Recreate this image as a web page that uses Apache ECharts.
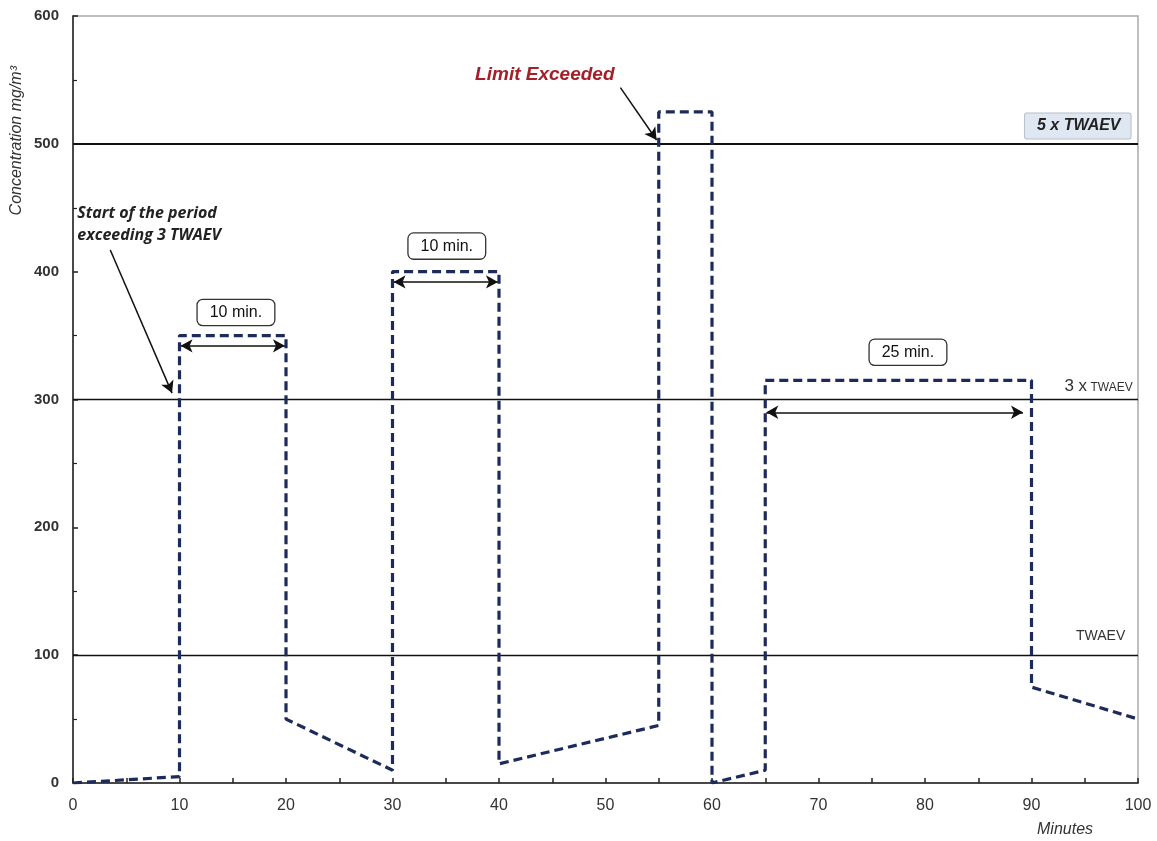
<!DOCTYPE html>
<html><head><meta charset="utf-8">
<script src="https://cdn.jsdelivr.net/npm/echarts@6/dist/echarts.min.js"></script>
<style>html,body{margin:0;padding:0;background:#fff}#c{width:1157px;height:841px}</style>
</head><body><div id="c"></div>
<script>
// Concentration profile (minutes, mg/m3)
const minutes = [0, 10, 10, 20, 20, 30, 30, 40, 40, 55, 55, 60, 60, 65, 65, 90, 90, 100];
const concentration = [0, 5, 350, 350, 50, 10, 400, 400, 15, 45, 525, 525, 0, 10, 315, 315, 75, 50];
// Reference levels
const refLevels = [100, 300, 500];
const refLabels = ['TWAEV', '3 x TWAEV', '5 x TWAEV'];
// Duration annotations: [start, end, y of arrow, label x, label y, text]
const durations = [
  [10.1, 19.9, 342, 15.3, 368, '10 min.'],
  [30.1, 39.9, 392, 35.1, 420, '10 min.'],
  [65.1, 89.2, 290, 78.4, 337, '25 min.']
];
// Callout arrows: [x1, y1, x2, y2]
const callouts = [
  [3.5, 417, 9.3, 305],
  [51.4, 544, 54.8, 503]
];

const chart = echarts.init(document.getElementById('c'));
const seriesData = minutes.map((m, i) => [m, concentration[i]]);

const boxLabel = {
  show: true, position: 'inside', color: '#111', fontSize: 16,
  fontFamily: 'Liberation Sans, Arial, sans-serif',
  backgroundColor: '#fff', borderColor: '#333', borderWidth: 1.3, borderRadius: 5,
  padding: [5, 12, 4, 12]
};

chart.setOption({
  animation: false,
  grid: { left: 73, right: 19, top: 16, bottom: 58, show: true, borderColor: '#aaa', borderWidth: 1.5 },
  xAxis: {
    type: 'value', min: 0, max: 100, interval: 5,
    axisLine: { lineStyle: { color: '#222', width: 1.5 } },
    axisTick: { inside: true, length: 5, lineStyle: { color: '#222', width: 1.5 } },
    axisLabel: { color: '#333', fontSize: 16, margin: 15, fontFamily: 'Liberation Sans, Arial, sans-serif',
      formatter: v => (v % 10 === 0 ? String(v) : '') },
    splitLine: { show: false }
  },
  yAxis: {
    type: 'value', min: 0, max: 600, interval: 100,
    axisLine: { show: true, lineStyle: { color: '#222', width: 1.5 } },
    axisTick: { show: true, inside: true, length: 5, lineStyle: { color: '#222', width: 1.5 } },
    minorTick: { show: true, splitNumber: 2, length: 4, lineStyle: { color: '#222', width: 1.2 } },
    axisLabel: { color: '#333', fontSize: 15, fontWeight: 'bold', margin: 14, fontFamily: 'Liberation Sans, Arial, sans-serif' },
    splitLine: { show: false }
  },
  graphic: [
    { type: 'text', left: 9, top: 66, rotation: Math.PI / 2,
      style: { text: 'Concentration mg/m³', fill: '#333', font: 'italic 16px "Liberation Sans", Arial, sans-serif' } },
    { type: 'text', left: 1037, top: 822,
      style: { text: 'Minutes', fill: '#333', font: 'italic 16px "Liberation Sans", Arial, sans-serif' } }
  ],
  series: [
    {
      type: 'line', data: seriesData, symbol: 'none', z: 5,
      lineStyle: { color: '#1c2a5c', width: 3.2, type: [9, 5] }
    },
    {
      type: 'line', data: [], symbol: 'none', z: 3,
      markLine: {
        silent: true, symbol: 'none', animation: false,
        label: { show: false },
        data: refLevels.map((v, i) => ({ yAxis: v, lineStyle: { color: '#111', width: i === 2 ? 2 : 1.3, type: 'solid' } }))
      }
    },
    {
      type: 'line', data: [], symbol: 'none', z: 6,
      markLine: {
        silent: true, animation: false, symbol: ['arrow', 'arrow'], symbolSize: [10, 12],
        label: { show: false },
        lineStyle: { color: '#111', width: 1.5, type: 'solid' },
        data: durations.map(d => [{ coord: [d[0], d[2]] }, { coord: [d[1], d[2]] }])
          .concat(callouts.map(c => [{ coord: [c[0], c[1]], symbol: 'none' }, { coord: [c[2], c[3]], symbol: 'arrow' }]))
      }
    },
    {
      type: 'line', data: [], symbol: 'none', z: 7,
      markPoint: {
        silent: true, animation: false, symbol: 'rect', symbolSize: 0,
        data: durations.map(d => ({ coord: [d[3], d[4]], value: d[5], label: Object.assign({}, boxLabel, { formatter: d[5] }) }))
          .concat([
            { coord: [44.3, 554], label: { show: true, position: 'inside', formatter: 'Limit Exceeded', color: '#a3202a',
                fontSize: 19, fontWeight: 'bold', fontStyle: 'italic', fontFamily: 'Liberation Sans, Arial, sans-serif' } },
            { coord: [0.4, 437], label: { show: true, position: 'right', distance: 0, formatter: 'Start of the period\nexceeding 3 TWAEV',
                color: '#222', fontSize: 16, lineHeight: 22, fontWeight: 'bold', fontStyle: 'italic', fontFamily: 'Open Sans, Lato, sans-serif' } },
            { coord: [99.3, 514], label: { show: true, position: 'left', distance: 0, formatter: '5 x TWAEV', color: '#222',
                fontSize: 16, fontWeight: 'bold', fontStyle: 'italic', fontFamily: 'Liberation Sans, Arial, sans-serif',
                backgroundColor: '#dfe7f3', borderColor: '#b8bfca', borderWidth: 1, borderRadius: 2, padding: [5, 10, 4, 12] } },
            { coord: [99.5, 310], label: { show: true, position: 'left', distance: 0, formatter: '{a|3 x} {b|TWAEV}',
                rich: { a: { fontSize: 17, color: '#333', fontFamily: 'Liberation Sans, Arial, sans-serif' },
                        b: { fontSize: 12, color: '#333', fontFamily: 'Liberation Sans, Arial, sans-serif', padding: [2, 0, 0, 0] } } } },
            { coord: [98.8, 115], label: { show: true, position: 'left', distance: 0, formatter: 'TWAEV', color: '#333',
                fontSize: 14, fontFamily: 'Liberation Sans, Arial, sans-serif' } }
          ])
      }
    }
  ]
});
</script></body></html>
